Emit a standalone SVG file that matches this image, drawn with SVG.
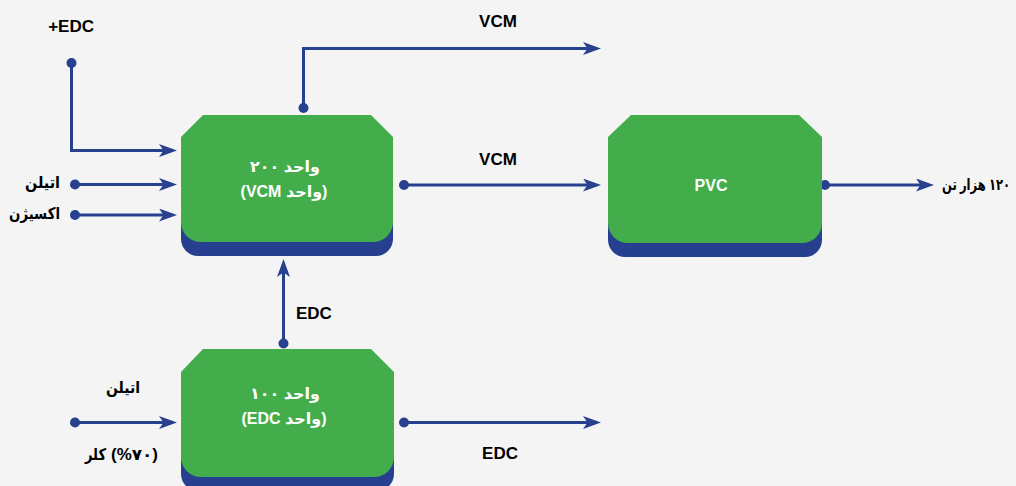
<svg xmlns="http://www.w3.org/2000/svg" width="1016" height="486" viewBox="0 0 1016 486">
  <style>
    .bg { fill: #f4f4f4; }
    .body { fill: #43ad4b; }
    .base { fill: #263f8e; }
    .flow { fill: none; stroke: #27418f; stroke-width: 3; }
    .dot { fill: #27418f; }
    text { font-family: "Liberation Sans", "DejaVu Sans", sans-serif; font-weight: bold; }
    .lbl { fill: #000000; font-size: 17px; }
    .fa { fill: #000000; font-size: 16px; }
    .in { fill: #ffffff; font-size: 16px; }
  </style>
  <defs>
    <marker id="arrow" markerUnits="userSpaceOnUse" markerWidth="20" markerHeight="14" refX="8" refY="6.5" orient="auto">
      <path d="M0,0 L18,6.5 L0,13 L4.5,6.5 Z" fill="#27418f"/>
    </marker>
  </defs>

  <rect class="bg" x="0" y="0" width="1016" height="486"/>

  <!-- process flow lines -->
  <g id="connectors">
    <path class="flow" d="M71.5,63 V150.5 H167" marker-end="url(#arrow)"/>
    <path class="flow" d="M75,184.5 H167" marker-end="url(#arrow)"/>
    <path class="flow" d="M75,215 H167" marker-end="url(#arrow)"/>
    <path class="flow" d="M303.5,108 V48.5 H591" marker-end="url(#arrow)"/>
    <path class="flow" d="M404,185 H591" marker-end="url(#arrow)"/>
    <path class="flow" d="M825,185 H924" marker-end="url(#arrow)"/>
    <path class="flow" d="M283.5,343 V269" marker-end="url(#arrow)"/>
    <path class="flow" d="M75,422.5 H167" marker-end="url(#arrow)"/>
    <path class="flow" d="M404,422.5 H591" marker-end="url(#arrow)"/>

    <circle class="dot" cx="71.5" cy="63" r="5"/>
    <circle class="dot" cx="75" cy="184.5" r="5"/>
    <circle class="dot" cx="75" cy="215" r="5"/>
    <circle class="dot" cx="303.5" cy="108" r="5"/>
    <circle class="dot" cx="404" cy="185" r="5"/>
    <circle class="dot" cx="825" cy="185" r="5"/>
    <circle class="dot" cx="283.5" cy="343.5" r="5"/>
    <circle class="dot" cx="75" cy="422.5" r="5"/>
    <circle class="dot" cx="404" cy="422.5" r="5"/>
  </g>

  <!-- unit 200 (VCM) -->
  <g id="unit-vcm">
    <rect class="base" x="181" y="190" width="212" height="66" rx="17"/>
    <path class="body" d="M203,115 H371 L393,137 V222 A20,20 0 0 1 373,242 H201 A20,20 0 0 1 181,222 V137 Z"/>
    <text class="in" x="285" y="172" text-anchor="middle" direction="rtl">واحد ۲۰۰</text>
    <text class="in" x="284" y="197" text-anchor="middle">(VCM واحد)</text>
  </g>

  <!-- PVC unit -->
  <g id="unit-pvc">
    <rect class="base" x="608" y="190" width="214" height="67" rx="17"/>
    <path class="body" d="M631,115 H799 L822,137 V223 A20,20 0 0 1 802,243 H628 A20,20 0 0 1 608,223 V137 Z"/>
    <text class="in" x="711" y="191" text-anchor="middle" font-size="17">PVC</text>
  </g>

  <!-- unit 100 (EDC) -->
  <g id="unit-edc">
    <rect class="base" x="181" y="425" width="213" height="66" rx="17"/>
    <path class="body" d="M203,349 H371 L394,372 V457 A20,20 0 0 1 374,477 H201 A20,20 0 0 1 181,457 V372 Z"/>
    <text class="in" x="285" y="399" text-anchor="middle" direction="rtl">واحد ۱۰۰</text>
    <text class="in" x="284" y="424" text-anchor="middle">(EDC واحد)</text>
  </g>

  <!-- stream labels -->
  <g id="labels">
    <text class="lbl" x="94" y="32" text-anchor="end">+EDC</text>
    <text class="fa" x="25" y="188" textLength="35" lengthAdjust="spacingAndGlyphs">اتیلن</text>
    <text class="fa" x="9" y="219" textLength="51" lengthAdjust="spacingAndGlyphs">اکسیژن</text>
    <text class="lbl" x="498" y="27" text-anchor="middle">VCM</text>
    <text class="lbl" x="498" y="165" text-anchor="middle">VCM</text>
    <text class="fa" x="976" y="190" text-anchor="middle" direction="rtl" font-size="15" textLength="68" lengthAdjust="spacingAndGlyphs">۱۲۰ هزار تن</text>
    <text class="lbl" x="296" y="319">EDC</text>
    <text class="fa" x="106" y="393" textLength="34" lengthAdjust="spacingAndGlyphs">اتیلن</text>
    <text class="fa" x="85" y="460" textLength="21" lengthAdjust="spacingAndGlyphs">کلر</text>
    <text class="fa" x="111" y="460" textLength="47" lengthAdjust="spacingAndGlyphs">(%۷۰)</text>
    <text class="lbl" x="500" y="459" text-anchor="middle">EDC</text>
  </g>
</svg>
